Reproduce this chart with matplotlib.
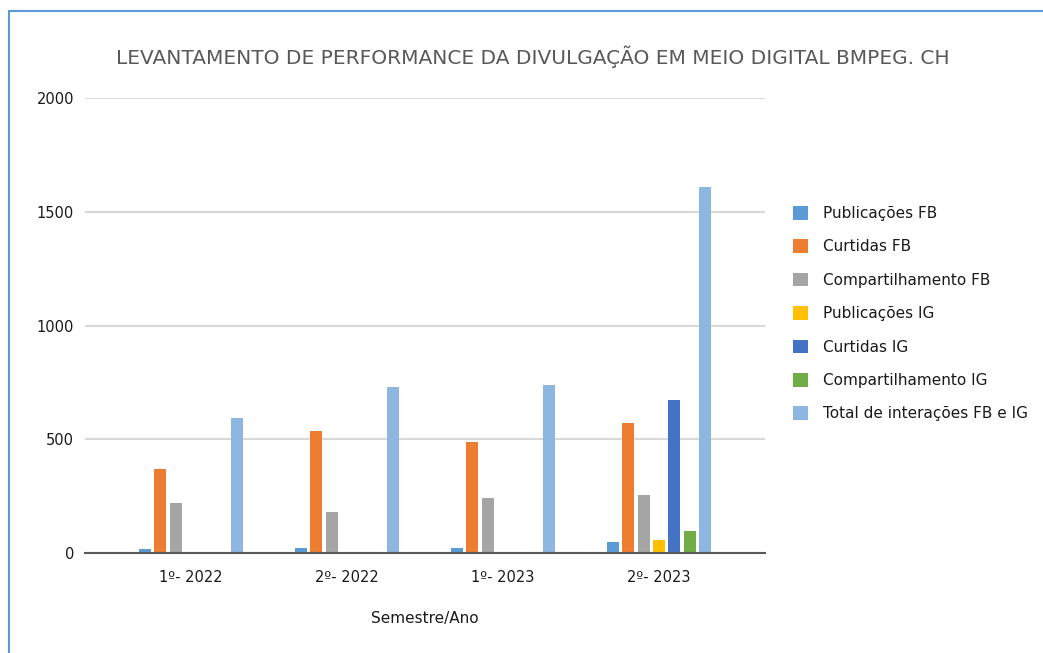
import matplotlib
matplotlib.use('Agg')
import numpy as np
import matplotlib.pyplot as plt
from matplotlib.patches import Patch, Rectangle

plt.rcParams['font.family'] = ['DejaVu Sans']

semestres = ['1º- 2022', '2º- 2022', '1º- 2023', '2º- 2023']
series = ['Publicações FB', 'Curtidas FB', 'Compartilhamento FB',
          'Publicações IG', 'Curtidas IG', 'Compartilhamento IG',
          'Total de interações FB e IG']
publicacoes_fb = [16, 23, 23, 50]
curtidas_fb = [368, 538, 486, 573]
compart_fb = [221, 182, 242, 255]
publicacoes_ig = [0, 0, 0, 57]
curtidas_ig = [0, 0, 0, 671]
compart_ig = [0, 0, 0, 95]
total = [592, 731, 737, 1610]
colors = ['#5b9bd5', '#ed7d31', '#a5a5a5', '#ffc000', '#4472c4', '#70ad47', '#8db6e1']

values = [publicacoes_fb, curtidas_fb, compart_fb, publicacoes_ig,
          curtidas_ig, compart_ig, total]

fig = plt.figure(figsize=(10.43, 6.53), dpi=100)
ax = fig.add_axes([85 / 1043, 100 / 653, 680 / 1043, 455 / 653])

x = np.arange(len(semestres))
step = 0.098
for i, (vals, col) in enumerate(zip(values, colors)):
    ax.bar(x + (i - 3) * step, vals, width=0.077, color=col, zorder=3)

ax.set_xlim(-0.68, 3.68)
ax.set_ylim(0, 2000)
ax.set_yticks([0, 500, 1000, 1500, 2000])
ax.yaxis.grid(True, color='#d9d9d9', linewidth=1.5, zorder=0)
for s in ['top', 'right', 'left']:
    ax.spines[s].set_visible(False)
ax.spines['bottom'].set_color('#595959')
ax.spines['bottom'].set_linewidth(1.5)
ax.spines['bottom'].set_zorder(4)
ax.tick_params(axis='both', length=0, labelsize=10.5, colors='#1a1a1a')
ax.tick_params(axis='y', pad=8)
ax.tick_params(axis='x', pad=12)
ax.set_xticks(x)
ax.set_xticklabels(semestres)
ax.set_xlabel('Semestre/Ano', fontsize=11, color='#1a1a1a', labelpad=19)

fig.text(533 / 1043, 1 - 57 / 653, 'LEVANTAMENTO DE PERFORMANCE DA DIVULGAÇÃO EM MEIO DIGITAL BMPEG. CH',
         ha='center', va='center', fontsize=14.5, color='#595959')

handles = [Patch(facecolor=c, edgecolor='none') for c in colors]
fig.legend(handles, series, loc='upper left', bbox_to_anchor=(793 / 1043, 1 - 206 / 653),
           frameon=False, fontsize=11, handlelength=1.0, handleheight=1.0,
           handletextpad=0.95, labelspacing=1.2, borderpad=0, borderaxespad=0,
           labelcolor='#1a1a1a')

# blue frame around the chart area
fig.patches.append(Rectangle((8.5 / 1043, -0.1), 1.2, 1.1 - 11.5 / 653,
                             transform=fig.transFigure, fill=False,
                             edgecolor='#5b9bd5', linewidth=1.5))

fig.savefig('out.png', dpi=100)
